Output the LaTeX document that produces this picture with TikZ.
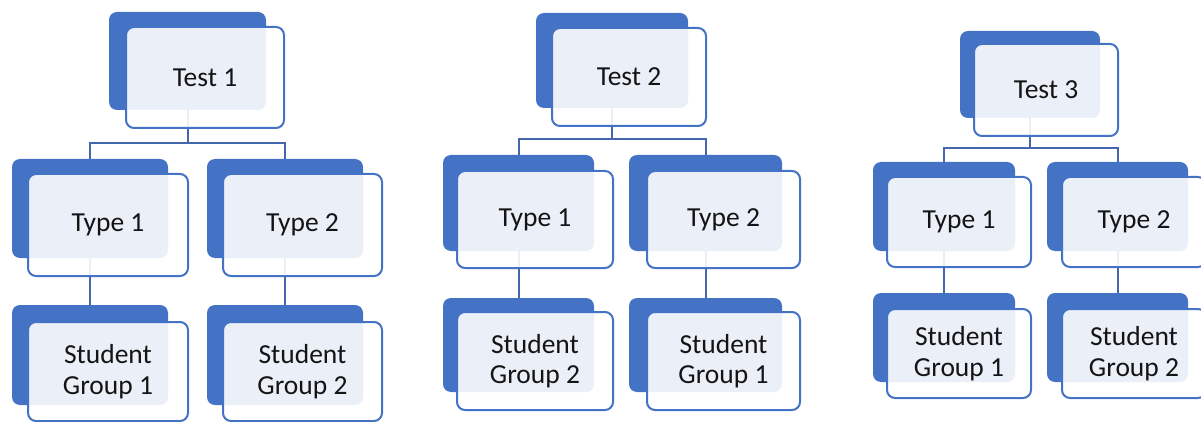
\documentclass[tikz,border=0pt]{standalone}
\usepackage{fontspec}
\setmainfont{Carlito}
\definecolor{darkbox}{HTML}{4472C4}
\definecolor{edgeblue}{HTML}{4472C4}
\definecolor{connblue}{HTML}{4466AD}
\definecolor{txt}{HTML}{141414}
\pgfdeclarelayer{back}
\pgfsetlayers{back,main}
\tikzset{
  darkb/.style={fill=darkbox, draw=none, rounded corners=8pt, inner sep=0pt, outer sep=0pt},
  frontb/.style={fill=white, fill opacity=0.89, text opacity=1, draw=edgeblue, draw opacity=1, line width=2pt,
    rounded corners=8pt, inner sep=0pt, outer sep=0pt, align=center, text=txt,
    font=\fontsize{27.5}{30.5}\selectfont},
  conn/.style={draw=connblue, line width=2pt}
}
\begin{document}
\begin{tikzpicture}[x=1pt,y=-1pt]
\useasboundingbox (0,0) rectangle (1201,422);
\clip (0,0) rectangle (1201,422);
% ---------- dark back boxes ----------
% Tree 1
\node[darkb, minimum width=157pt, minimum height=98pt] (T1d) at (187.5,61) {};
\node[darkb, minimum width=156pt, minimum height=99pt] (A1d) at (90,208.5) {};
\node[darkb, minimum width=156pt, minimum height=99pt] (A2d) at (285,208.5) {};
\node[darkb, minimum width=156pt, minimum height=100pt] (S11d) at (90,355) {};
\node[darkb, minimum width=156pt, minimum height=100pt] (S12d) at (285,355) {};
% Tree 2
\node[darkb, minimum width=152pt, minimum height=95pt] (T2d) at (612,60.5) {};
\node[darkb, minimum width=151pt, minimum height=96pt] (B1d) at (518.5,203) {};
\node[darkb, minimum width=153pt, minimum height=96pt] (B2d) at (705.5,203) {};
\node[darkb, minimum width=151pt, minimum height=94pt] (S21d) at (518.5,345) {};
\node[darkb, minimum width=153pt, minimum height=94pt] (S22d) at (705.5,345) {};
% Tree 3
\node[darkb, minimum width=140pt, minimum height=87pt] (T3d) at (1030,74.5) {};
\node[darkb, minimum width=142pt, minimum height=89pt] (C1d) at (944,206.5) {};
\node[darkb, minimum width=141pt, minimum height=89pt] (C2d) at (1117.5,206.5) {};
\node[darkb, minimum width=142pt, minimum height=89pt] (S31d) at (944,337.5) {};
\node[darkb, minimum width=141pt, minimum height=89pt] (S32d) at (1117.5,337.5) {};
% ---------- front boxes ----------
\node[frontb, minimum width=158pt, minimum height=101pt] (T1f) at (205,77.5) {Test 1};
\node[frontb, minimum width=160pt, minimum height=102pt] (A1f) at (108,225) {Type 1};
\node[frontb, minimum width=159pt, minimum height=102pt] (A2f) at (302.5,225) {Type 2};
\node[frontb, minimum width=160pt, minimum height=99pt] (S11f) at (108,371.5) {Student\\Group 1};
\node[frontb, minimum width=159pt, minimum height=99pt] (S12f) at (302.5,371.5) {Student\\Group 2};
\node[frontb, minimum width=154pt, minimum height=98pt] (T2f) at (629,77) {Test 2};
\node[frontb, minimum width=156pt, minimum height=97pt] (B1f) at (535,219.5) {Type 1};
\node[frontb, minimum width=153pt, minimum height=97pt] (B2f) at (723.5,219.5) {Type 2};
\node[frontb, minimum width=156pt, minimum height=98pt] (S21f) at (535,361) {Student\\Group 2};
\node[frontb, minimum width=153pt, minimum height=98pt] (S22f) at (723.5,361) {Student\\Group 1};
\node[frontb, minimum width=144pt, minimum height=92pt] (T3f) at (1046,90) {Test 3};
\node[frontb, minimum width=144pt, minimum height=90pt] (C1f) at (959,222) {Type 1};
\node[frontb, minimum width=144pt, minimum height=90pt] (C2f) at (1134,222) {Type 2};
\node[frontb, minimum width=144pt, minimum height=89pt] (S31f) at (959,353.5) {Student\\Group 1};
\node[frontb, minimum width=144pt, minimum height=89pt] (S32f) at (1134,353.5) {Student\\Group 2};
% ---------- connectors (behind) ----------
\coordinate (bar1) at (0,143);
\coordinate (bar2) at (0,139);
\coordinate (bar3) at (0,148);
\begin{pgfonlayer}{back}
\draw[conn] (T1d.south) -- (T1d.south |- bar1) -| (A1d.north);
\draw[conn] (T1d.south |- bar1) -| (A2d.north);
\draw[conn] (A1d.south) -- (S11d.north);
\draw[conn] (A2d.south) -- (S12d.north);
\draw[conn] (T2d.south) -- (T2d.south |- bar2) -| (B1d.north);
\draw[conn] (T2d.south |- bar2) -| (B2d.north);
\draw[conn] (B1d.south) -- (S21d.north);
\draw[conn] (B2d.south) -- (S22d.north);
\draw[conn] (T3d.south) -- (T3d.south |- bar3) -| (C1d.north);
\draw[conn] (T3d.south |- bar3) -| (C2d.north);
\draw[conn] (C1d.south) -- (S31d.north);
\draw[conn] (C2d.south) -- (S32d.north);
\end{pgfonlayer}
\end{tikzpicture}
\end{document}
